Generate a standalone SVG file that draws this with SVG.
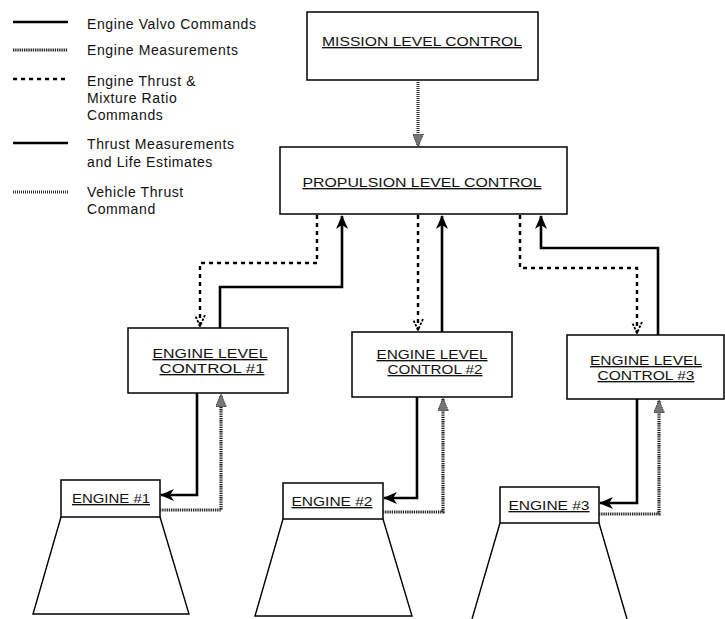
<svg xmlns="http://www.w3.org/2000/svg" width="725" height="619" viewBox="0 0 725 619">
<style>
text{font-family:"Liberation Sans",Arial,sans-serif;fill:#111}
.lg{font-size:14px;letter-spacing:0.6px}
.bl{font-size:13.5px;text-decoration:underline;text-anchor:middle}
.box{fill:#fff;stroke:#000;stroke-width:1.5}
.noz{fill:none;stroke:#000;stroke-width:1.4}
.valve{fill:none;stroke:#000;stroke-width:2.6}
.meas{fill:none;stroke:#222;stroke-width:3.2;stroke-dasharray:1.3 0.9}
.cmd{fill:none;stroke:#000;stroke-width:2.4;stroke-dasharray:4 4}
.vtc{fill:none;stroke:#333;stroke-width:3.2;stroke-dasharray:1 1}
</style>
<defs>
<marker id="arS" markerWidth="14" markerHeight="12" refX="13" refY="6" orient="auto" markerUnits="userSpaceOnUse"><path d="M0,0 L14,6 L0,12 L4,6 Z" fill="#000"/></marker>
<marker id="arH" markerWidth="13" markerHeight="11" refX="12" refY="5.5" orient="auto" markerUnits="userSpaceOnUse"><path d="M0,0 L13,5.5 L0,11 Z" fill="#777" stroke="#000" stroke-width="0.8" stroke-dasharray="1 1"/></marker>
<marker id="arD" markerWidth="12" markerHeight="12" refX="11" refY="6" orient="auto" markerUnits="userSpaceOnUse"><path d="M0,1 L11,6 L0,11" fill="none" stroke="#000" stroke-width="1.8" stroke-dasharray="2.5 1.5"/></marker>
</defs>

<g id="legend">
<line class="valve" x1="13" y1="22" x2="68" y2="22"/>
<text class="lg" x="87" y="29">Engine Valvo Commands</text>
<line class="meas" x1="13" y1="50" x2="68" y2="50"/>
<text class="lg" x="87" y="55">Engine Measurements</text>
<line class="cmd" x1="13" y1="79" x2="68" y2="79"/>
<text class="lg" x="87" y="86">Engine Thrust &amp;</text>
<text class="lg" x="87" y="103">Mixture Ratio</text>
<text class="lg" x="87" y="120">Commands</text>
<line class="valve" x1="13" y1="143" x2="68" y2="143"/>
<text class="lg" x="87" y="149">Thrust Measurements</text>
<text class="lg" x="87" y="167">and Life Estimates</text>
<line class="vtc" x1="13" y1="192" x2="68" y2="192"/>
<text class="lg" x="87" y="197">Vehicle Thrust</text>
<text class="lg" x="87" y="214">Command</text>
</g>

<g id="mission">
<rect class="box" x="307" y="12" width="231" height="68"/>
<text class="bl" x="422" y="46" textLength="200" lengthAdjust="spacingAndGlyphs">MISSION LEVEL CONTROL</text>
</g>

<g id="propulsion">
<rect class="box" x="280" y="147" width="287" height="67"/>
<text class="bl" x="422" y="187" textLength="239" lengthAdjust="spacingAndGlyphs">PROPULSION LEVEL CONTROL</text>
</g>

<g id="elc1">
<rect class="box" x="128" y="328" width="160" height="65"/>
<text class="bl" x="210" y="358" textLength="115" lengthAdjust="spacingAndGlyphs">ENGINE LEVEL</text>
<text class="bl" x="212" y="373" textLength="105" lengthAdjust="spacingAndGlyphs">CONTROL #1</text>
</g>

<g id="elc2">
<rect class="box" x="352" y="332" width="160" height="65"/>
<text class="bl" x="432" y="359" textLength="111" lengthAdjust="spacingAndGlyphs">ENGINE LEVEL</text>
<text class="bl" x="435" y="374" textLength="95" lengthAdjust="spacingAndGlyphs">CONTROL #2</text>
</g>

<g id="elc3">
<rect class="box" x="567" y="335" width="157" height="64"/>
<text class="bl" x="646" y="365" textLength="112" lengthAdjust="spacingAndGlyphs">ENGINE LEVEL</text>
<text class="bl" x="646" y="380" textLength="97" lengthAdjust="spacingAndGlyphs">CONTROL #3</text>
</g>

<g id="engine1">
<rect class="box" x="61" y="480" width="99" height="37"/>
<text class="bl" x="111" y="503" textLength="78" lengthAdjust="spacingAndGlyphs">ENGINE #1</text>
<path class="noz" d="M61,517 L33,614 L189,614 L160,517"/>
</g>

<g id="engine2">
<rect class="box" x="283" y="483" width="100" height="36"/>
<text class="bl" x="332" y="506" textLength="81" lengthAdjust="spacingAndGlyphs">ENGINE #2</text>
<path class="noz" d="M283,519 L255,616 L412,616 L383,519"/>
</g>

<g id="engine3">
<rect class="box" x="500" y="487" width="99" height="36"/>
<text class="bl" x="549" y="510" textLength="81" lengthAdjust="spacingAndGlyphs">ENGINE #3</text>
<path class="noz" d="M500,523 L472,619 M599,523 L627,619"/>
</g>

<g id="connectors">
<path class="vtc" d="M418,80 V146" marker-end="url(#arH)"/>
<path class="valve" d="M220,328 V287 H342 V216" marker-end="url(#arS)"/>
<path class="cmd" d="M317,215 V263 H200 V326" marker-end="url(#arD)"/>
<path class="valve" d="M442,332 V216" marker-end="url(#arS)"/>
<path class="cmd" d="M418,215 V330" marker-end="url(#arD)"/>
<path class="valve" d="M658,335 V248 H541 V216" marker-end="url(#arS)"/>
<path class="cmd" d="M520,215 V268 H637 V333" marker-end="url(#arD)"/>
<path class="valve" d="M197,393 V495 H161" marker-end="url(#arS)"/>
<path class="meas" d="M160,510 H221 V395" marker-end="url(#arH)"/>
<path class="valve" d="M417,397 V498 H384" marker-end="url(#arS)"/>
<path class="meas" d="M383,512 H443 V399" marker-end="url(#arH)"/>
<path class="valve" d="M637,399 V503 H600" marker-end="url(#arS)"/>
<path class="meas" d="M599,514 H659 V401" marker-end="url(#arH)"/>
</g>
</svg>
